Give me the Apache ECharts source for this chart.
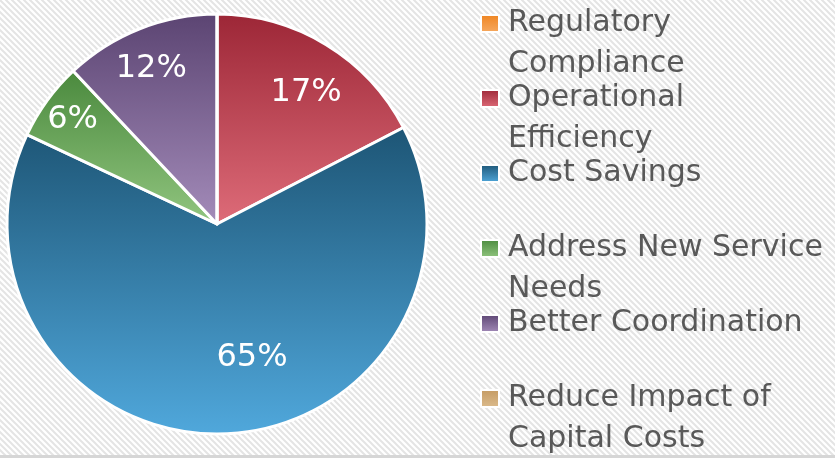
<!DOCTYPE html>
<html>
<head>
<meta charset="utf-8">
<script src="https://cdn.jsdelivr.net/npm/echarts@6/dist/echarts.min.js"></script>
<style>
    html, body { margin: 0; padding: 0; }
    #chart { width: 835px; height: 458px; }
</style>
</head>
<body>
<div id="chart"></div>
<script>
// data
var categories = ['Regulatory Compliance', 'Operational Efficiency', 'Cost Savings', 'Address New Service Needs', 'Better Coordination', 'Reduce Impact of Capital Costs'];
var legendText = ['Regulatory\nCompliance', 'Operational\nEfficiency', 'Cost Savings\n', 'Address New Service\nNeeds', 'Better Coordination\n', 'Reduce Impact of\nCapital Costs'];
var values = [0, 17.4, 64.6, 6.0, 12.0, 0];

// top / bottom colours of each slice gradient
var topColors = ['#ef8420', '#9c2636', '#1d5575', '#4a893d', '#5b4472', '#c49a62'];
var bottomColors = ['#f6aa62', '#de6c79', '#50a8dc', '#92c680', '#a48cba', '#dcbc8e'];
// label nudges from the default inside position
var labelShift = [[0, 0], [33, -39], [33, 26], [-57, -41], [-26, -55], [0, 0]];

function stripes() {
    var c = document.createElement('canvas');
    c.width = 6;
    c.height = 6;
    var ctx = c.getContext('2d');
    ctx.fillStyle = '#ffffff';
    ctx.fillRect(0, 0, 6, 6);
    ctx.strokeStyle = '#e4e4e4';
    ctx.lineWidth = 2;
    ctx.beginPath();
    ctx.moveTo(-3, -3); ctx.lineTo(9, 9);
    ctx.moveTo(-3, 3); ctx.lineTo(3, 9);
    ctx.moveTo(3, -3); ctx.lineTo(9, 3);
    ctx.stroke();
    return c;
}

var myChart = echarts.init(document.getElementById('chart'));

var pieData = categories.map(function (name, i) {
    var item = {
        name: name,
        value: values[i],
        itemStyle: {
            color: new echarts.graphic.LinearGradient(0, 0, 0, 1, [
                { offset: 0, color: topColors[i] },
                { offset: 1, color: bottomColors[i] }
            ])
        }
    };
    if (values[i] === 0) {
        item.label = { show: false };
        item.labelLine = { show: false };
    }
    return item;
});

var option = {
    backgroundColor: { image: stripes(), repeat: 'repeat' },
    animation: false,
    legend: {
        orient: 'vertical',
        left: 480,
        top: -38,
        height: 1000,
        padding: 0,
        itemGap: -48,
        itemWidth: 18,
        itemHeight: 17,
        icon: 'rect',
        selectedMode: false,
        data: categories,
        // blank first line so the icon sits beside the first text line
        formatter: function (name) {
            return '\n' + legendText[categories.indexOf(name)];
        },
        textStyle: {
            fontFamily: 'DejaVu Sans',
            fontSize: 30,
            lineHeight: 41,
            color: '#595959',
            padding: [0, 0, 0, 4]
        }
    },
    series: [{
        type: 'pie',
        center: [217, 224],
        radius: 210,
        startAngle: 90,
        clockwise: true,
        avoidLabelOverlap: false,
        percentPrecision: 0,
        itemStyle: {
            borderColor: '#ffffff',
            borderWidth: 3
        },
        label: {
            show: true,
            position: 'inside',
            formatter: '{d}%',
            fontFamily: 'DejaVu Sans',
            fontSize: 32,
            color: '#ffffff'
        },
        labelLayout: function (params) {
            var s = labelShift[params.dataIndex];
            return { dx: s[0], dy: s[1] };
        },
        emphasis: { disabled: true },
        data: pieData
    }],
    graphic: [{
        type: 'rect',
        shape: { x: 0, y: 455, width: 835, height: 3 },
        style: { fill: '#d6d6d6' }
    }]
};

myChart.setOption(option);
</script>
</body>
</html>
